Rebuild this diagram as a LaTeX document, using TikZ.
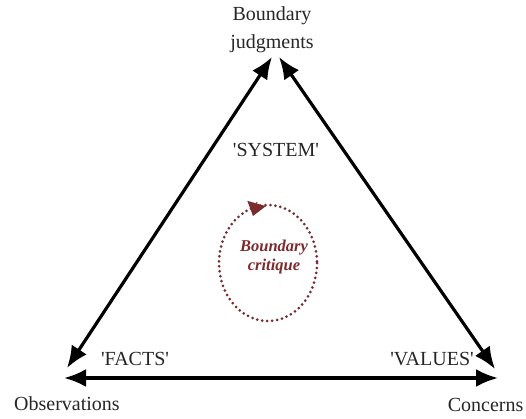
\documentclass[tikz,border=0pt]{standalone}
\usepackage{fontspec}
\setmainfont{Liberation Serif}
\usetikzlibrary{arrows.meta}
\definecolor{critred}{HTML}{7B2A2E}
\definecolor{ink}{HTML}{262626}
\newcommand{\q}[1]{\textquotesingle#1\textquotesingle}
\tikzset{
  lbl/.style={inner sep=0pt,anchor=base,text=ink},
  crit/.style={critred,line width=3pt,line cap=round,dash pattern=on 0pt off 5pt}
}
\begin{document}
\begin{tikzpicture}[x=1pt,y=-1pt,line width=3.2pt,>={Latex[length=22pt,width=18pt]},
 line join=round,font=\fontsize{20}{28}\selectfont]
\useasboundingbox (0,0) rectangle (526,419);
% corner labels
\node[inner sep=0pt,align=center,text=ink] (judg) at (272,29.5) {Boundary\\judgments};
\node[lbl] (obs) at (67,410) {Observations};
\node[lbl,anchor=base east] (conc) at (525,411) {Concerns};
% side labels
\node[lbl] (sys) at (276,157) {\q{SYSTEM}};
\node[lbl] (facts) at (135,365) {\q{FACTS}};
\node[lbl] (vals) at (432,365) {\q{VALUES}};
% arrow ends
\coordinate (jl) at (272,57);
\coordinate (jr) at (279,57);
\coordinate (ol) at (67,368);
\coordinate (ob) at (64,378);
\coordinate (cr) at (495,369);
\coordinate (cb) at (498,378);
\draw[<->] (jl)--(ol);
\draw[<->] (jr)--(cr);
\draw[<->] (ob)--(cb);
% boundary critique loop
\coordinate (loop) at (268,263);
\draw[crit] (loop) ellipse [x radius=49,y radius=58];
\coordinate (tipa) at (257,202);
\coordinate (tipb) at (253,216);
\draw[critred,line width=1pt,-{Triangle[length=13pt,width=19pt]}] (tipa)--(tipb);
\node[inner sep=0pt,align=center,critred,font=\fontsize{16.5}{19}\selectfont\bfseries\itshape]
  (crit) at (274,257.5) {Boundary\\critique};
\end{tikzpicture}
\end{document}
